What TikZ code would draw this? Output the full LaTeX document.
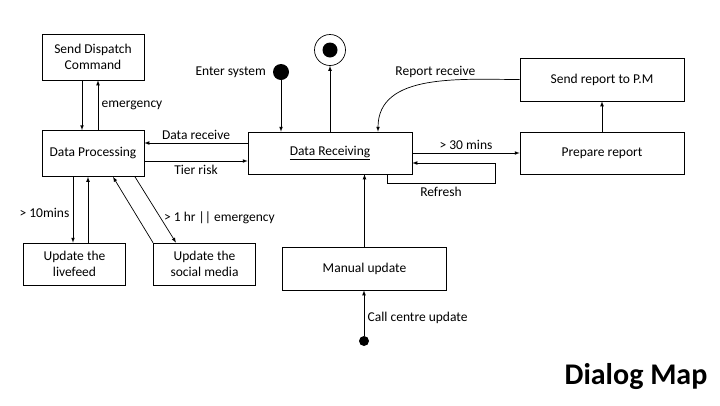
\documentclass[tikz,border=0pt]{standalone}
\usepackage{fontspec}
\setmainfont{Carlito}
\usetikzlibrary{positioning, shapes, arrows}

\begin{document}
\begin{tikzpicture}[->,>=latex,x=1pt,y=-1pt,line width=0.7pt,
  every node/.style={font=\fontsize{13.5}{16}\selectfont},
  box/.style={draw, rectangle, inner sep=0pt, align=center},
  smallbox/.style={box, minimum width=102pt, minimum height=46pt},
  widebox/.style={box, minimum width=164pt, minimum height=42pt},
  dot/.style={circle, fill=black, inner sep=0pt}]
  \useasboundingbox (0,0) rectangle (720,405);

  % Create nodes
  \node[smallbox] (dispatch) at (93,57) {Send Dispatch\\Command};
  \node[smallbox] (dataproc) at (93,153.5) {Data Processing};
  \node[smallbox, minimum height=42pt] (livefeed) at (74.5,264) {Update the\\livefeed};
  \node[smallbox, minimum height=42pt] (social) at (204.5,264) {Update the\\social media};
  \node[widebox] (recv) at (330,153) {\underline{Data Receiving}};
  \node[widebox, minimum height=43pt] (sendpm) at (602,79.5) {Send report to P.M};
  \node[widebox] (prep) at (602,153) {Prepare report};
  \node[widebox, minimum height=43pt] (manual) at (364.5,268.5) {Manual update};
  \node[dot, minimum size=16pt] (enter) at (281,72) {};
  \node[dot, minimum size=10pt] (call) at (364,341) {};
  \node[circle, draw, minimum size=31pt, inner sep=0pt] (final) at (330,50) {};
  \node[dot, minimum size=15pt] at (final) {};
  \node[font=\fontsize{30}{34}\selectfont\bfseries] (title) at (636,377) {Dialog Map};

  % Data Processing
  \draw ([xshift=-11pt]dispatch.south) -- ([xshift=-11pt]dataproc.north);
  \draw ([xshift=5pt]dataproc.north) -- node[right] {emergency} ([xshift=5pt]dispatch.south);
  \draw ([xshift=-20pt]dataproc.south) -- node[left, pos=0.55] {> 10mins} ([xshift=-1.5pt]livefeed.north);
  \draw ([xshift=13.5pt]livefeed.north) -- ([xshift=-5pt]dataproc.south);
  \draw ([xshift=42pt]dataproc.south) -- node[right, pos=0.62] {> 1 hr || emergency} ([xshift=-28.5pt]social.north);
  \draw ([xshift=-51.5pt]social.north) -- ([xshift=20pt]dataproc.south);
  \draw ([yshift=10pt]recv.west) -- node[above] {Data receive} ([yshift=10.5pt]dataproc.east);
  \draw ([yshift=-7.5pt]dataproc.east) -- node[below] {Tier risk} ([yshift=-8pt]recv.west);

  % Data Receiving
  \draw (enter) -- (enter |- recv.north);
  \node[left=3pt of enter] {Enter system};
  \draw (recv.north) -- (final.south);
  \draw (sendpm.west) to[out=180, in=90] node[above, pos=0.45, yshift=1pt] {Report receive} ([xshift=48pt]recv.north);
  \draw (recv.east) -- node[above] {> 30 mins} (prep.west);
  \draw ([xshift=57pt]recv.south) -- ++(0,9) -- node[below] {Refresh} ++(108,0) |- ([yshift=-10pt]recv.east);
  \draw (prep.north) -- (sendpm.south);
  \draw (manual.north) -- (manual.north |- recv.south);
  \draw (call) -- node[right, pos=0.4] {Call centre update} (call |- manual.south);
\end{tikzpicture}
\end{document}
